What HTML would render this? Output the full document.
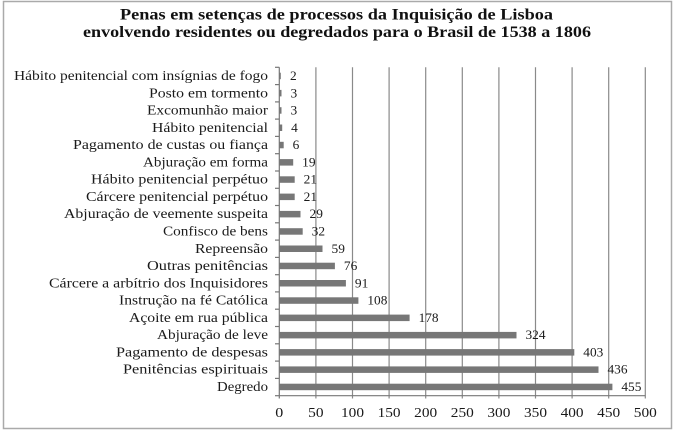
<!DOCTYPE html>
<html><head><meta charset="utf-8"><style>
html,body{margin:0;padding:0;background:#fff;}
svg{display:block;}
</style></head><body>
<svg width="674" height="430" viewBox="0 0 674 430" xmlns="http://www.w3.org/2000/svg" font-family="'Liberation Serif', serif" xml:space="preserve">
<rect x="0" y="0" width="674" height="430" fill="#fff"/>
<rect x="3.5" y="1.5" width="668" height="427" fill="none" stroke="#aaa" stroke-width="1.5"/>
<g font-weight="bold" font-size="16" fill="#111">
<text x="120" y="19.5" textLength="433" lengthAdjust="spacingAndGlyphs">Penas em setenças de processos da Inquisição de Lisboa</text>
<text x="83" y="37" textLength="508" lengthAdjust="spacingAndGlyphs">envolvendo residentes ou degredados para o Brasil de 1538 a 1806</text>
</g>
<g stroke="#8a8a8a" stroke-width="1.2">
<line x1="315.9" y1="67.3" x2="315.9" y2="398.5"/>
<line x1="352.5" y1="67.3" x2="352.5" y2="398.5"/>
<line x1="389.1" y1="67.3" x2="389.1" y2="398.5"/>
<line x1="425.7" y1="67.3" x2="425.7" y2="398.5"/>
<line x1="462.3" y1="67.3" x2="462.3" y2="398.5"/>
<line x1="498.9" y1="67.3" x2="498.9" y2="398.5"/>
<line x1="535.5" y1="67.3" x2="535.5" y2="398.5"/>
<line x1="572.1" y1="67.3" x2="572.1" y2="398.5"/>
<line x1="608.7" y1="67.3" x2="608.7" y2="398.5"/>
<line x1="645.3" y1="67.3" x2="645.3" y2="398.5"/>
</g>
<g stroke="#777" stroke-width="1.2">
<line x1="279.3" y1="67.3" x2="279.3" y2="398.5"/>
<line x1="279.3" y1="395.7" x2="645.3" y2="395.7"/>
<line x1="275" y1="67.3" x2="279.3" y2="67.3"/>
<line x1="275" y1="84.6" x2="279.3" y2="84.6"/>
<line x1="275" y1="101.9" x2="279.3" y2="101.9"/>
<line x1="275" y1="119.1" x2="279.3" y2="119.1"/>
<line x1="275" y1="136.4" x2="279.3" y2="136.4"/>
<line x1="275" y1="153.7" x2="279.3" y2="153.7"/>
<line x1="275" y1="171.0" x2="279.3" y2="171.0"/>
<line x1="275" y1="188.3" x2="279.3" y2="188.3"/>
<line x1="275" y1="205.5" x2="279.3" y2="205.5"/>
<line x1="275" y1="222.8" x2="279.3" y2="222.8"/>
<line x1="275" y1="240.1" x2="279.3" y2="240.1"/>
<line x1="275" y1="257.4" x2="279.3" y2="257.4"/>
<line x1="275" y1="274.7" x2="279.3" y2="274.7"/>
<line x1="275" y1="291.9" x2="279.3" y2="291.9"/>
<line x1="275" y1="309.2" x2="279.3" y2="309.2"/>
<line x1="275" y1="326.5" x2="279.3" y2="326.5"/>
<line x1="275" y1="343.8" x2="279.3" y2="343.8"/>
<line x1="275" y1="361.1" x2="279.3" y2="361.1"/>
<line x1="275" y1="378.4" x2="279.3" y2="378.4"/>
<line x1="275" y1="395.7" x2="279.3" y2="395.7"/>
</g>
<g fill="#777">
<rect x="279.3" y="72.7" width="1.5" height="6.5"/>
<rect x="279.3" y="89.9" width="2.2" height="6.5"/>
<rect x="279.3" y="107.2" width="2.2" height="6.5"/>
<rect x="279.3" y="124.5" width="2.9" height="6.5"/>
<rect x="279.3" y="141.8" width="4.4" height="6.5"/>
<rect x="279.3" y="159.1" width="13.9" height="6.5"/>
<rect x="279.3" y="176.3" width="15.4" height="6.5"/>
<rect x="279.3" y="193.6" width="15.4" height="6.5"/>
<rect x="279.3" y="210.9" width="21.2" height="6.5"/>
<rect x="279.3" y="228.2" width="23.4" height="6.5"/>
<rect x="279.3" y="245.5" width="43.2" height="6.5"/>
<rect x="279.3" y="262.7" width="55.6" height="6.5"/>
<rect x="279.3" y="280.0" width="66.6" height="6.5"/>
<rect x="279.3" y="297.3" width="79.1" height="6.5"/>
<rect x="279.3" y="314.6" width="130.3" height="6.5"/>
<rect x="279.3" y="331.9" width="237.2" height="6.5"/>
<rect x="279.3" y="349.1" width="295.0" height="6.5"/>
<rect x="279.3" y="366.4" width="319.2" height="6.5"/>
<rect x="279.3" y="383.7" width="333.1" height="6.5"/>
</g>
<g font-size="14" fill="#1a1a1a" lengthAdjust="spacingAndGlyphs">
<text x="14" y="80" textLength="254" lengthAdjust="spacingAndGlyphs">Hábito penitencial com insígnias de fogo</text>
<text x="149" y="97.3" textLength="119" lengthAdjust="spacingAndGlyphs">Posto em tormento</text>
<text x="147" y="114.5" textLength="121" lengthAdjust="spacingAndGlyphs">Excomunhão maior</text>
<text x="152" y="131.8" textLength="116" lengthAdjust="spacingAndGlyphs">Hábito penitencial</text>
<text x="73" y="149.1" textLength="195" lengthAdjust="spacingAndGlyphs">Pagamento de custas ou fiança</text>
<text x="143" y="166.4" textLength="125" lengthAdjust="spacingAndGlyphs">Abjuração em forma</text>
<text x="91" y="183.7" textLength="177" lengthAdjust="spacingAndGlyphs">Hábito penitencial perpétuo</text>
<text x="86" y="200.9" textLength="182" lengthAdjust="spacingAndGlyphs">Cárcere penitencial perpétuo</text>
<text x="64" y="218.2" textLength="204" lengthAdjust="spacingAndGlyphs">Abjuração de veemente suspeita</text>
<text x="163" y="235.5" textLength="105" lengthAdjust="spacingAndGlyphs">Confisco de bens</text>
<text x="195" y="252.8" textLength="73" lengthAdjust="spacingAndGlyphs">Repreensão</text>
<text x="147" y="270.1" textLength="121" lengthAdjust="spacingAndGlyphs">Outras penitências</text>
<text x="49" y="287.3" textLength="219" lengthAdjust="spacingAndGlyphs">Cárcere a arbítrio dos Inquisidores</text>
<text x="119" y="304.6" textLength="149" lengthAdjust="spacingAndGlyphs">Instrução na fé Católica</text>
<text x="129" y="321.9" textLength="139" lengthAdjust="spacingAndGlyphs">Açoite em rua pública</text>
<text x="157" y="339.2" textLength="111" lengthAdjust="spacingAndGlyphs">Abjuração de leve</text>
<text x="116" y="356.5" textLength="152" lengthAdjust="spacingAndGlyphs">Pagamento de  despesas</text>
<text x="123" y="373.7" textLength="145" lengthAdjust="spacingAndGlyphs">Penitências espirituais</text>
<text x="217" y="391" textLength="51" lengthAdjust="spacingAndGlyphs">Degredo</text>
</g>
<g font-size="12.5" fill="#1a1a1a">
<text x="290" y="80" textLength="6.7" lengthAdjust="spacingAndGlyphs">2</text>
<text x="290.5" y="97.3" textLength="6.7" lengthAdjust="spacingAndGlyphs">3</text>
<text x="290.5" y="114.5" textLength="6.7" lengthAdjust="spacingAndGlyphs">3</text>
<text x="291.2" y="131.8" textLength="6.7" lengthAdjust="spacingAndGlyphs">4</text>
<text x="292.7" y="149.1" textLength="6.7" lengthAdjust="spacingAndGlyphs">6</text>
<text x="302.2" y="166.4" textLength="13.4" lengthAdjust="spacingAndGlyphs">19</text>
<text x="303.7" y="183.7" textLength="13.4" lengthAdjust="spacingAndGlyphs">21</text>
<text x="303.7" y="200.9" textLength="13.4" lengthAdjust="spacingAndGlyphs">21</text>
<text x="309.5" y="218.2" textLength="13.4" lengthAdjust="spacingAndGlyphs">29</text>
<text x="311.7" y="235.5" textLength="13.4" lengthAdjust="spacingAndGlyphs">32</text>
<text x="331.5" y="252.8" textLength="13.4" lengthAdjust="spacingAndGlyphs">59</text>
<text x="343.9" y="270.1" textLength="13.4" lengthAdjust="spacingAndGlyphs">76</text>
<text x="354.9" y="287.3" textLength="13.4" lengthAdjust="spacingAndGlyphs">91</text>
<text x="367.4" y="304.6" textLength="20" lengthAdjust="spacingAndGlyphs">108</text>
<text x="418.6" y="321.9" textLength="20" lengthAdjust="spacingAndGlyphs">178</text>
<text x="525.5" y="339.2" textLength="20" lengthAdjust="spacingAndGlyphs">324</text>
<text x="583.3" y="356.5" textLength="20" lengthAdjust="spacingAndGlyphs">403</text>
<text x="607.5" y="373.7" textLength="20" lengthAdjust="spacingAndGlyphs">436</text>
<text x="621.4" y="391" textLength="20" lengthAdjust="spacingAndGlyphs">455</text>
</g>
<g font-size="13.5" fill="#1a1a1a">
<text x="275.3" y="417" textLength="8" lengthAdjust="spacingAndGlyphs">0</text>
<text x="308.2" y="417" textLength="15.4" lengthAdjust="spacingAndGlyphs">50</text>
<text x="341" y="417" textLength="23" lengthAdjust="spacingAndGlyphs">100</text>
<text x="377.6" y="417" textLength="23" lengthAdjust="spacingAndGlyphs">150</text>
<text x="414.2" y="417" textLength="23" lengthAdjust="spacingAndGlyphs">200</text>
<text x="450.8" y="417" textLength="23" lengthAdjust="spacingAndGlyphs">250</text>
<text x="487.4" y="417" textLength="23" lengthAdjust="spacingAndGlyphs">300</text>
<text x="524" y="417" textLength="23" lengthAdjust="spacingAndGlyphs">350</text>
<text x="560.6" y="417" textLength="23" lengthAdjust="spacingAndGlyphs">400</text>
<text x="597.2" y="417" textLength="23" lengthAdjust="spacingAndGlyphs">450</text>
<text x="633.8" y="417" textLength="23" lengthAdjust="spacingAndGlyphs">500</text>
</g>
</svg>
</body></html>
